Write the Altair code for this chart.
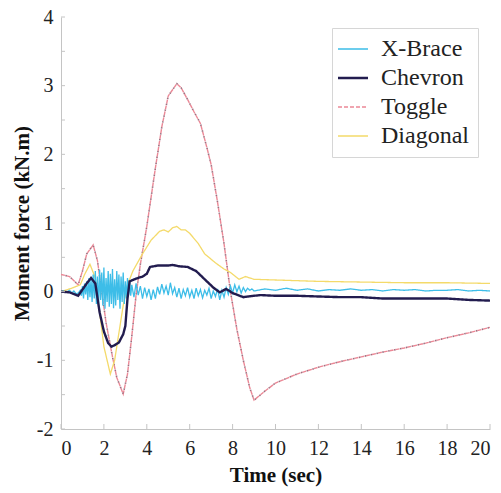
import altair as alt
import pandas as pd

# ---------------- data ----------------
series_names = ["X-Brace", "Chevron", "Toggle", "Diagonal"]
series_colors = ["#3dbde8", "#221c4f", "#ec8896", "#f4da6a"]
series_dash = [[1, 0], [1, 0], [4, 2], [1, 0]]
series_width = {"X-Brace": 1.3, "Chevron": 2.4, "Toggle": 1.4, "Diagonal": 1.3}

xbrace_t = [0.0, 0.1, 0.2, 0.3, 0.4, 0.5, 0.6, 0.7, 0.8,
            0.9, 0.95, 1.0, 1.05, 1.1, 1.15, 1.2, 1.25, 1.3, 1.35, 1.4, 1.45,
            1.5, 1.55, 1.6, 1.65, 1.7, 1.75, 1.8, 1.85, 1.9, 1.95,
            2.0, 2.05, 2.1, 2.15, 2.2, 2.25, 2.3, 2.35, 2.4, 2.45,
            2.5, 2.55, 2.6, 2.65, 2.7, 2.75, 2.8, 2.85, 2.9, 2.95,
            3.0, 3.05, 3.1, 3.15, 3.2, 3.25, 3.3,
            3.4, 3.5, 3.6, 3.7, 3.8, 3.9,
            4.0, 4.1, 4.2, 4.3, 4.4, 4.5, 4.6, 4.7, 4.8, 4.9,
            5.0, 5.1, 5.2, 5.3, 5.4, 5.5, 5.6, 5.7, 5.8, 5.9,
            6.0, 6.1, 6.2, 6.3, 6.4, 6.5, 6.6, 6.7, 6.8, 6.9,
            7.0, 7.1, 7.2, 7.3, 7.4, 7.5, 7.6, 7.7, 7.8, 7.9,
            8.0, 8.1, 8.2, 8.3, 8.4, 8.5, 8.6, 8.7, 8.8, 8.9,
            9.0, 9.5, 10.0, 10.5, 11.0, 11.5, 12.0, 12.5, 13.0, 13.5,
            14.0, 14.5, 15.0, 15.5, 16.0, 16.5, 17.0, 17.5, 18.0, 18.5,
            19.0, 19.5, 20.0]
xbrace_v = [0.0, 0.01, -0.01, 0.0, 0.02, -0.02, 0.01, -0.03, -0.02,
            0.02, -0.06, 0.08, -0.1, 0.12, -0.04, 0.15, -0.12, 0.2, -0.08, 0.18, -0.15,
            0.25, -0.1, 0.3, -0.18, 0.22, -0.22, 0.32, -0.12, 0.28, -0.2,
            0.35, -0.25, 0.2, -0.15, 0.3, -0.22, 0.26, -0.18, 0.33, -0.24,
            0.18, -0.2, 0.3, -0.12, 0.25, -0.25, 0.22, -0.15, 0.28, -0.18,
            0.15, -0.1, 0.2, -0.05, 0.14, -0.06, 0.1,
            -0.08, 0.12, -0.05, 0.08, -0.1, 0.06,
            -0.07, 0.04, -0.12, 0.03, -0.1, 0.07, -0.04, 0.11, -0.02, 0.08,
            -0.05, 0.13, -0.03, 0.06, -0.08, 0.05, -0.1, 0.03, -0.06, 0.06,
            -0.08, 0.02, -0.1, 0.05, -0.06, 0.03, -0.09, 0.02, -0.05, 0.05,
            -0.1, 0.01, -0.07, 0.04, -0.12, 0.02, -0.08, 0.06, -0.04, 0.08,
            -0.02, 0.1, 0.0, 0.08, -0.02, 0.06, 0.0, 0.05, 0.02, 0.04,
            0.01, 0.04, 0.02, 0.05, 0.02, 0.04, 0.01, 0.03, 0.02, 0.04,
            0.02, 0.03, 0.01, 0.03, 0.02, 0.03, 0.01, 0.02, 0.02, 0.03,
            0.01, 0.02, 0.01]

chevron_t = [0, 0.4, 0.8, 1.0, 1.2, 1.4, 1.6, 1.8, 2.0, 2.2, 2.35, 2.5, 2.7, 2.9,
             3.0, 3.1, 3.2, 3.5, 3.8, 4.0, 4.15, 4.5, 5.0, 5.2, 5.5, 5.9, 6.3, 6.7,
             7.1, 7.4, 7.7, 8.0, 8.5, 9.0, 9.3, 10, 11, 12, 13, 14, 15, 16, 17, 18,
             19, 20]
chevron_v = [0, -0.01, -0.06, 0.03, 0.12, 0.2, 0.12, -0.3, -0.58, -0.75, -0.8, -0.78,
             -0.74, -0.62, -0.5, -0.1, 0.15, 0.19, 0.22, 0.26, 0.36, 0.38, 0.38, 0.39,
             0.37, 0.36, 0.3, 0.18, 0.06, -0.01, 0.04, -0.02, -0.08, -0.06, -0.05,
             -0.06, -0.06, -0.07, -0.08, -0.08, -0.1, -0.1, -0.1, -0.1, -0.12, -0.13]

toggle_t = [0, 0.4, 0.8, 1.0, 1.2, 1.5, 1.7, 1.9, 2.1, 2.4, 2.6, 2.9, 3.1, 3.3,
            3.5, 3.7, 4.0, 4.4, 4.7, 5.0, 5.4, 5.6, 5.9, 6.2, 6.5, 6.8, 7.0, 7.3,
            7.6, 7.9, 8.2, 8.5, 8.8, 9.0, 9.5, 10, 11, 12, 13, 14, 15, 16, 17, 18,
            19, 20]
toggle_v = [0.25, 0.22, 0.1, 0.3, 0.55, 0.68, 0.45, 0.0, -0.45, -0.95, -1.25, -1.49,
            -1.2, -0.65, -0.05, 0.4, 0.95, 1.8, 2.4, 2.85, 3.03, 2.97, 2.8, 2.62, 2.45,
            2.1, 1.85, 1.3, 0.7, 0.0, -0.55, -1.0, -1.4, -1.58, -1.45, -1.33, -1.2,
            -1.1, -1.02, -0.95, -0.88, -0.82, -0.75, -0.67, -0.6, -0.52]

diagonal_t = [0, 0.5, 0.9, 1.1, 1.35, 1.6, 1.8, 2.0, 2.3, 2.5, 2.7, 2.9, 3.1, 3.35,
              3.8, 4.2, 4.6, 4.8, 5.0, 5.2, 5.4, 5.6, 5.8, 6.0, 6.4, 6.7, 7.2, 7.6,
              7.9, 8.3, 8.6, 9.0, 10, 12, 14, 16, 18, 20]
diagonal_v = [0.0, 0.05, 0.1, 0.25, 0.4, 0.2, -0.3, -0.8, -1.2, -1.0, -0.6, -0.2, 0.1,
              0.3, 0.55, 0.75, 0.88, 0.9, 0.87, 0.93, 0.95, 0.9, 0.9, 0.85, 0.7, 0.55,
              0.42, 0.33, 0.28, 0.18, 0.22, 0.18, 0.17, 0.15, 0.14, 0.13, 0.13, 0.12]

x_tick_values = [0, 2, 4, 6, 8, 10, 12, 14, 16, 18, 20]
y_tick_values = [-2, -1.5, -1, -0.5, 0, 0.5, 1, 1.5, 2, 2.5, 3, 3.5, 4]

# ---------------- build table ----------------
frames = []
for name, ts, vs in [("X-Brace", xbrace_t, xbrace_v), ("Chevron", chevron_t, chevron_v),
                     ("Toggle", toggle_t, toggle_v), ("Diagonal", diagonal_t, diagonal_v)]:
    frames.append(pd.DataFrame({"t": ts, "v": vs, "series": name}))
df = pd.concat(frames, ignore_index=True)

W, H = 429, 412
FONT = "Liberation Serif, Times New Roman, serif"
AXIS_COLOR = "#c4c4c4"

x_enc = alt.X("t:Q", scale=alt.Scale(domain=[0, 20], nice=False),
              axis=alt.Axis(values=x_tick_values, title="Time (sec)", tickSize=0,
                            labelPadding=9, titlePadding=6, grid=False,
                            labelFont=FONT, titleFont=FONT, labelFontSize=20))
y_enc = alt.Y("v:Q", scale=alt.Scale(domain=[-2, 4], nice=False),
              axis=alt.Axis(values=y_tick_values, title="Moment force (kN.m)", tickSize=0,
                            labelPadding=8, titlePadding=4, grid=False,
                            labelFont=FONT, titleFont=FONT, labelFontSize=20,
                            labelExpr="datum.value % 1 == 0 ? '' + datum.value : ''"))

legend = alt.Legend(
    title=None, orient="none", legendX=271, legendY=11,
    labelFont=FONT, labelFontSize=24, labelColor="#222", labelOffset=16,
    symbolType="stroke", symbolSize=900, rowPadding=5,
    symbolStrokeWidth=alt.ExprRef("datum.value == 'Chevron' ? 2.6 : 1.5"),
    strokeColor="#d6d6d6", padding=9, fillColor="white",
)

color_enc = alt.Color("series:N", scale=alt.Scale(domain=series_names, range=series_colors),
                      legend=legend)
dash_enc = alt.StrokeDash("series:N", scale=alt.Scale(domain=series_names, range=series_dash),
                          legend=legend)


def layer_for(name):
    return alt.Chart(df).transform_filter(alt.datum.series == name).mark_line(
        clip=True, strokeWidth=series_width[name]
    ).encode(x=x_enc, y=y_enc, color=color_enc, strokeDash=dash_enc)


toggle_dots = alt.Chart(df).transform_filter(alt.datum.series == "Toggle").mark_line(
    color="#a07080", strokeWidth=1.6, strokeDash=[1.5, 4.5], strokeDashOffset=-4.5
).encode(x="t:Q", y="v:Q")

ytick_df = pd.DataFrame({"v": y_tick_values})
xtick_df = pd.DataFrame({"t": x_tick_values})
yticks = alt.Chart(ytick_df).mark_rule(color=AXIS_COLOR, strokeWidth=1).encode(
    y="v:Q", x=alt.value(0), x2=alt.value(4))
xticks = alt.Chart(xtick_df).mark_rule(color=AXIS_COLOR, strokeWidth=1).encode(
    x="t:Q", y=alt.value(H), y2=alt.value(H - 5))

chart = alt.layer(
    layer_for("Toggle"), toggle_dots, layer_for("Diagonal"), layer_for("X-Brace"),
    layer_for("Chevron"), yticks, xticks
).properties(
    width=W, height=H, autosize="none",
    padding={"left": 61, "top": 17, "right": 11, "bottom": 64},
    background="white",
).configure_view(stroke=None).configure_axis(
    domainColor=AXIS_COLOR, domainWidth=1,
    labelFont=FONT, labelFontSize=20, labelColor="#222",
    titleFont=FONT, titleFontSize=21, titleFontWeight="bold", titleColor="#111",
)

chart.save("out.html", embed_options={"renderer": "svg", "actions": False})
